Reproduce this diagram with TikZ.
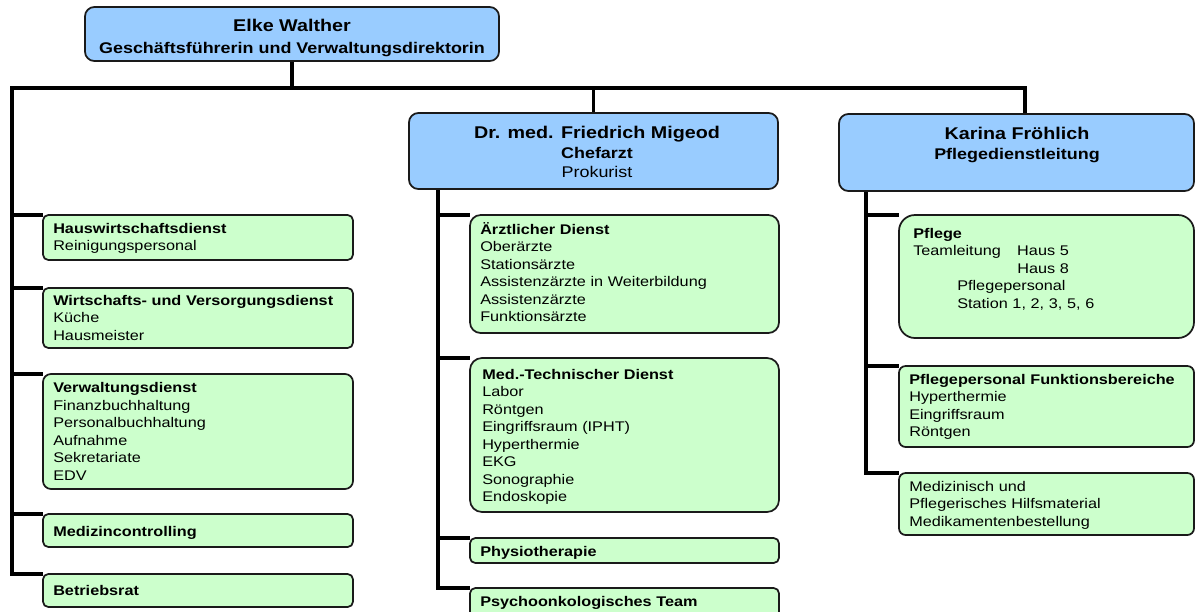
\documentclass[tikz,border=0pt]{standalone}
\usepackage{fontspec}
\setmainfont{Liberation Sans}[FakeStretch=1.16]
\usetikzlibrary{fit,backgrounds}
\definecolor{gfill}{HTML}{CCFFCC}
\definecolor{bfill}{HTML}{99CCFF}
\definecolor{edgec}{HTML}{1A1A1A}
\begin{document}
\begin{tikzpicture}[x=0.75pt,y=-0.75pt,
  gbox/.style={draw=edgec, fill=gfill, line width=1.3pt, inner sep=0pt, outer sep=0pt, rounded corners=#1},
  gbox/.default=4pt,
  bbox/.style={draw=edgec, fill=bfill, line width=1.3pt, inner sep=0pt, outer sep=0pt, rounded corners=7pt},
  conn/.style={draw=black, line width=2.6pt},
  txt/.style={anchor=base west, inner sep=0pt, text width=225pt, align=left, font=\fontsize{10.5}{13.125}\selectfont},
  title/.style={anchor=base, inner sep=0pt, font=\fontsize{12.75}{15}\selectfont\bfseries},
  sub/.style={anchor=base, inner sep=0pt, font=\fontsize{11.6}{14}\selectfont\bfseries},
  subr/.style={anchor=base, inner sep=0pt, font=\fontsize{11.6}{14}\selectfont}]
\useasboundingbox (0,0) rectangle (1196,611);
\clip (0,0) rectangle (1196,611);
% top boxes
\node[bbox, fit={(85,7)(499,61)}] (elke) {};
\node[bbox, fit={(409,113)(778,189)}] (migeod) {};
\node[bbox, fit={(839,114)(1194,191)}] (karina) {};
\node[title] (elke1) at (292,31.7) {Elke Walther};
\node[sub] (elke2) at (292,53) {Geschäftsführerin und Verwaltungsdirektorin};
\node[title] (mig1) at (597,138) {Dr. med. Friedrich Migeod};
\node[sub] (mig2) at (597,158) {Chefarzt};
\node[subr] (mig3) at (597,177) {Prokurist};
\node[title] (kar1) at (1017,139) {Karina Fröhlich};
\node[sub] (kar2) at (1017,159) {Pflegedienstleitung};
% left column
\node[gbox, fit={(43,215)(353,260)}] (hw) {};
\node[gbox, fit={(43,288)(353,348)}] (ws) {};
\node[gbox=6pt, fit={(43,374)(353,489)}] (vw) {};
\node[gbox, fit={(43,514)(353,547)}] (mc) {};
\node[gbox, fit={(43,574)(353,607)}] (br) {};
\node[txt] (hwt) at (53,233) {\textbf{Hauswirtschaftsdienst}\\Reinigungspersonal};
\node[txt] (wst) at (53,305) {\textbf{Wirtschafts- und Versorgungsdienst}\\Küche\\Hausmeister};
\node[txt] (vwt) at (53,392.5) {\textbf{Verwaltungsdienst}\\Finanzbuchhaltung\\Personalbuchhaltung\\Aufnahme\\Sekretariate\\EDV};
\node[txt] (mct) at (53,536) {\textbf{Medizincontrolling}};
\node[txt] (brt) at (53,595) {\textbf{Betriebsrat}};
% middle column
\node[gbox=8pt, fit={(470,215)(779,333)}] (ae) {};
\node[gbox=9pt, fit={(470,358)(779,512)}] (mt) {};
\node[gbox, fit={(470,538)(779,563)}] (ph) {};
\node[gbox, fit={(470,588)(779,625)}] (ps) {};
\node[txt] (aet) at (480,234) {\textbf{Ärztlicher Dienst}\\Oberärzte\\Stationsärzte\\Assistenzärzte in Weiterbildung\\Assistenzärzte\\Funktionsärzte};
\node[txt] (mtt) at (482,379) {\textbf{Med.-Technischer Dienst}\\Labor\\Röntgen\\Eingriffsraum (IPHT)\\Hyperthermie\\EKG\\Sonographie\\Endoskopie};
\node[txt] (pht) at (480,556) {\textbf{Physiotherapie}};
\node[txt] (pst) at (480,606) {\textbf{Psychoonkologisches Team}};
% right column
\node[gbox=12pt, fit={(899,215)(1194,338)}] (pf) {};
\node[gbox=5pt, fit={(899,366)(1194,447)}] (pfb) {};
\node[gbox=5pt, fit={(899,473)(1194,535)}] (mh) {};
\node[txt] (pft) at (913,238) {\textbf{Pflege}\\\makebox[78pt][l]{Teamleitung}Haus 5\\\hspace*{78pt}Haus 8\\\hspace*{33pt}Pflegepersonal\\\hspace*{33pt}Station 1, 2, 3, 5, 6};
\node[txt] (pfbt) at (909,384) {\textbf{Pflegepersonal Funktionsbereiche}\\Hyperthermie\\Eingriffsraum\\Röntgen};
\node[txt] (mht) at (909,491) {Medizinisch und\\Pflegerisches Hilfsmaterial\\Medikamentenbestellung};
% connectors
\begin{scope}[on background layer]
\fill[white] (0,0) rectangle (1196,611);
\coordinate (busL) at (12,88);
\coordinate (busR) at (1025,88);
\coordinate (mtop) at (438,189);
\coordinate (rtop) at (866,191);
\draw[conn] (elke.south) -- (elke.south |- busL);
\draw[conn] (br.north west) -| (busL) -- (busR) -- (busR |- karina.north);
\draw[conn] (migeod.north |- busL) -- (migeod.north);
\foreach \n in {hw,ws,vw,mc} \draw[conn] (busL |- \n.north west) -- (\n.north west);
\draw[conn] (mtop) |- (ps.north west);
\foreach \n in {ae,mt,ph} \draw[conn] (mtop |- \n.north west) -- (\n.north west);
\draw[conn] (rtop) |- (mh.north west);
\foreach \n in {pf,pfb} \draw[conn] (rtop |- \n.north west) -- (\n.north west);
\end{scope}
\end{tikzpicture}
\end{document}
